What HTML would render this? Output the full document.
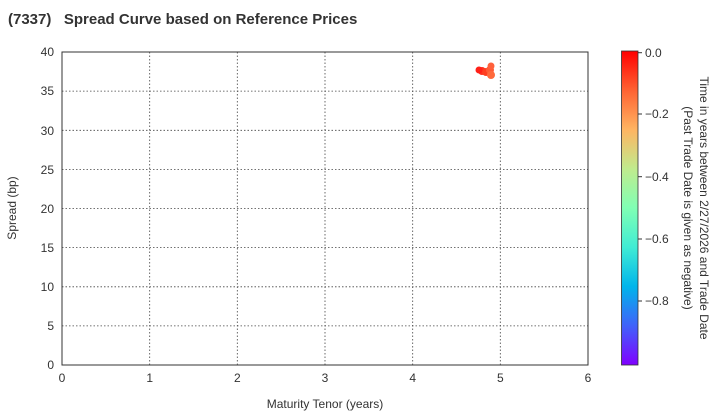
<!DOCTYPE html>
<html><head><style>body{margin:0;background:#fff}svg{display:block;font-family:"Liberation Sans",Arial,sans-serif}</style></head>
<body>
<svg width="720" height="420" viewBox="0 0 720 420" xmlns="http://www.w3.org/2000/svg">
<defs>
<linearGradient id="rb" x1="0" y1="1" x2="0" y2="0">
<stop offset="0" stop-color="#8000ff"/>
<stop offset="0.125" stop-color="#4062fa"/>
<stop offset="0.25" stop-color="#00b5eb"/>
<stop offset="0.375" stop-color="#40ecd4"/>
<stop offset="0.5" stop-color="#80ffb4"/>
<stop offset="0.625" stop-color="#c0eb8d"/>
<stop offset="0.75" stop-color="#ffb462"/>
<stop offset="0.875" stop-color="#ff6232"/>
<stop offset="1" stop-color="#ff0000"/>
</linearGradient>
</defs>
<text x="8" y="24" font-size="15" font-weight="bold" fill="#333">(7337)&#160;&#160;&#160;Spread Curve based on Reference Prices</text>
<g stroke="#444" stroke-width="0.8" stroke-dasharray="1.5,2">
<line x1="149.7" y1="52" x2="149.7" y2="365"/>
<line x1="237.3" y1="52" x2="237.3" y2="365"/>
<line x1="325" y1="52" x2="325" y2="365"/>
<line x1="412.7" y1="52" x2="412.7" y2="365"/>
<line x1="500.3" y1="52" x2="500.3" y2="365"/>
<line x1="62" y1="325.9" x2="588" y2="325.9"/>
<line x1="62" y1="286.8" x2="588" y2="286.8"/>
<line x1="62" y1="247.6" x2="588" y2="247.6"/>
<line x1="62" y1="208.5" x2="588" y2="208.5"/>
<line x1="62" y1="169.4" x2="588" y2="169.4"/>
<line x1="62" y1="130.3" x2="588" y2="130.3"/>
<line x1="62" y1="91.1" x2="588" y2="91.1"/>
</g>
<rect x="62" y="52" width="526" height="313" fill="none" stroke="#333" stroke-width="1"/>
<g opacity="0.9">
<circle cx="482" cy="71" r="4" fill="#ff1a05"/>
<circle cx="486" cy="72" r="4" fill="#ff2a08"/>
<circle cx="490" cy="70" r="4" fill="#ff4a20"/>
<circle cx="491" cy="66" r="3.5" fill="#ff5028"/>
<circle cx="491" cy="75" r="4" fill="#ff5a28"/>
<circle cx="479" cy="70" r="3.5" fill="#ff0a00"/>
</g>
<g font-size="12" fill="#333" text-anchor="middle">
<text x="62" y="382">0</text><text x="149.7" y="382">1</text><text x="237.3" y="382">2</text><text x="325" y="382">3</text><text x="412.7" y="382">4</text><text x="500.3" y="382">5</text><text x="588" y="382">6</text>
<text x="325" y="408">Maturity Tenor (years)</text>
</g>
<g font-size="12" fill="#333" text-anchor="end">
<text x="54" y="369">0</text><text x="54" y="330">5</text><text x="54" y="291">10</text><text x="54" y="252">15</text><text x="54" y="213">20</text><text x="54" y="174">25</text><text x="54" y="135">30</text><text x="54" y="95">35</text><text x="54" y="56">40</text>
</g>
<text transform="translate(16,208) rotate(-90)" font-size="12" fill="#333" text-anchor="middle">Spread (bp)</text>
<rect x="621.5" y="51" width="16.5" height="314" fill="url(#rb)" stroke="#333" stroke-width="0.8"/>
<g stroke="#333"><line x1="638" y1="52.7" x2="642" y2="52.7"/><line x1="638" y1="114" x2="642" y2="114"/><line x1="638" y1="176.7" x2="642" y2="176.7"/><line x1="638" y1="239" x2="642" y2="239"/><line x1="638" y1="301" x2="642" y2="301"/></g>
<g font-size="12" fill="#333">
<text x="645" y="57">0.0</text><text x="645" y="118">−0.2</text><text x="645" y="181">−0.4</text><text x="645" y="243">−0.6</text><text x="645" y="305">−0.8</text>
</g>
<text transform="translate(700,208) rotate(90)" font-size="12" fill="#333" text-anchor="middle">Time in years between 2/27/2026 and Trade Date</text>
<text transform="translate(684,208) rotate(90)" font-size="12" fill="#333" text-anchor="middle">(Past Trade Date is given as negative)</text>
</svg>
</body></html>
